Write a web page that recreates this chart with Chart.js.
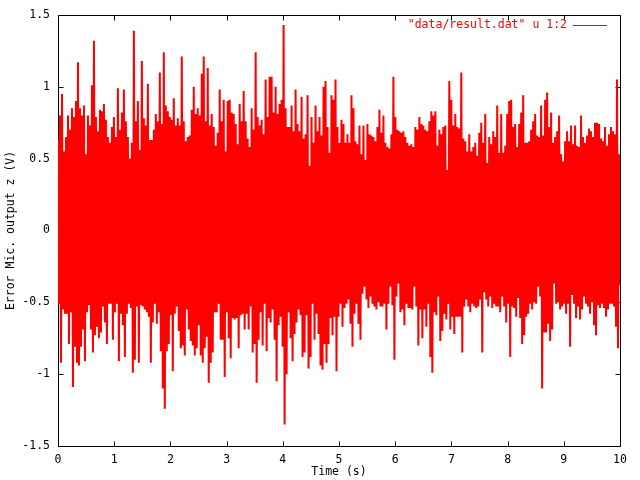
<!DOCTYPE html>
<html>
<head>
<meta charset="utf-8">
<script src="https://cdn.jsdelivr.net/npm/chart.js@4.4.0/dist/chart.umd.min.js"></script>
<style>
    html, body { margin: 0; padding: 0; background: #fff; }
    #plot { display: block; }
</style>
</head>
<body>
<canvas id="plot" width="640" height="480"></canvas>
<script>
// --- 1. DATA (one high/low pair per 2 px column) ---
const seriesLabel = '"data/result.dat" u 1:2';
const xTitle = "Time (s)";
const yTitle = "Error Mic. output z (V)";
const timeRange = [0, 10];
const xTicks = [0, 1, 2, 3, 4, 5, 6, 7, 8, 9, 10];
const yTicks = [-1.5, -1, -0.5, 0, 0.5, 1, 1.5];

const peaksHigh = [
    0.63,0.80,0.95,0.55,0.65,0.80,0.70,0.85,0.79,0.90,
    1.17,0.85,0.80,0.87,0.53,0.80,0.73,1.01,1.32,0.79,
    0.69,0.84,0.83,0.88,0.77,0.65,0.61,0.72,0.79,0.65,
    0.99,0.70,0.82,0.98,0.76,0.65,0.50,0.61,1.39,0.76,
    0.90,0.56,1.18,0.78,0.73,1.02,0.63,0.63,
    0.70,0.81,0.76,1.10,0.74,1.24,0.87,0.83,0.79,0.77,
    0.92,0.73,0.78,0.73,1.21,0.76,0.62,0.65,0.66,0.84,
    1.00,0.81,0.85,0.80,1.09,1.21,0.76,1.13,0.73,0.81,
    0.72,0.59,0.68,0.98,0.76,0.91,0.55,0.90,0.91,0.82,
    0.81,0.74,0.60,0.88,0.76,0.97,0.76,0.64,
    0.58,0.85,0.70,1.24,0.79,0.73,0.77,0.67,1.05,0.79,
    1.07,1.07,0.82,1.00,0.81,0.88,0.91,1.43,0.85,0.72,
    0.72,0.87,0.69,0.98,0.74,0.69,0.93,0.64,0.67,0.94,
    0.45,0.79,0.61,0.87,0.69,0.79,0.66,1.00,1.04,0.72,
    0.54,0.94,0.91,1.05,0.72,0.61,0.77,
    0.74,0.61,0.67,0.61,0.94,0.85,0.62,0.60,0.73,0.53,
    0.73,0.49,0.74,0.67,0.66,0.65,0.62,0.72,0.84,0.68,
    0.80,0.61,0.58,0.57,0.67,1.07,0.79,0.70,0.69,0.68,
    0.69,0.65,0.61,0.59,0.60,0.58,0.72,0.70,0.79,0.74,
    0.73,0.70,0.69,0.76,0.83,0.80,0.83,0.59,
    0.70,0.67,0.72,0.73,0.42,1.04,0.91,0.73,0.81,0.72,
    0.71,1.10,0.64,0.62,0.55,0.67,0.55,0.58,0.61,0.52,
    0.68,0.75,0.61,0.81,0.47,0.65,0.60,0.69,0.65,0.87,
    0.54,0.81,0.54,0.59,0.81,0.90,0.91,0.72,0.74,0.58,
    0.74,0.82,0.94,0.61,0.61,0.62,0.70,
    0.76,0.81,0.66,0.65,0.87,0.66,0.91,0.96,0.72,0.82,
    0.61,0.65,0.69,0.80,0.53,0.48,0.62,0.69,0.62,0.73,
    0.60,0.73,0.59,0.58,0.80,0.65,0.61,0.66,0.71,0.69,
    0.65,0.75,0.75,0.74,0.64,0.62,0.72,0.59,0.67,0.72,
    0.69,0.67,1.05,0.53
];

const peaksLow = [
    -0.51,-0.92,-0.55,-0.58,-0.58,-0.79,-0.57,-1.09,-0.81,-0.92,
    -0.94,-0.81,-0.69,-0.91,-0.57,-0.52,-0.69,-0.85,-0.73,-0.67,
    -0.75,-0.71,-0.53,-0.64,-0.79,-0.51,-0.51,-0.76,-0.57,-0.51,
    -0.91,-0.58,-0.66,-0.88,-0.58,-0.51,-0.54,-0.99,-0.90,-0.53,
    -0.92,-0.52,-0.53,-0.55,-0.57,-0.60,-0.92,-0.64,
    -0.51,-0.65,-0.57,-0.84,-1.10,-1.24,-0.84,-0.79,-0.59,-0.98,
    -0.58,-0.53,-0.70,-0.82,-0.80,-0.87,-0.55,-0.69,-0.77,-0.80,
    -0.87,-0.82,-0.66,-0.87,-0.92,-0.82,-0.74,-1.06,-0.92,-0.85,
    -0.57,-0.57,-0.51,-0.76,-0.76,-1.02,-0.57,-0.75,-0.89,-0.61,
    -0.62,-0.61,-0.82,-0.59,-0.58,-0.69,-0.58,-0.69,
    -0.53,-0.85,-0.79,-1.06,-0.76,-0.57,-0.80,-0.51,-0.84,-0.61,
    -0.64,-0.55,-0.76,-1.05,-0.66,-0.60,-0.81,-1.35,-1.00,-0.57,
    -0.75,-0.91,-0.72,-0.64,-0.55,-0.59,-0.88,-0.85,-0.59,-0.96,
    -0.88,-0.51,-0.76,-0.58,-0.72,-0.94,-0.97,-0.79,-0.92,-0.79,
    -0.61,-0.73,-0.60,-0.98,-0.60,-0.51,-0.67,
    -0.54,-0.51,-0.48,-0.65,-0.81,-0.58,-0.51,-0.65,-0.76,-0.44,
    -0.39,-0.48,-0.54,-0.46,-0.51,-0.53,-0.55,-0.50,-0.53,-0.53,
    -0.51,-0.69,-0.51,-0.39,-0.52,-0.90,-0.46,-0.37,-0.57,-0.55,
    -0.66,-0.51,-0.54,-0.54,-0.55,-0.39,-0.53,-0.80,-0.55,-0.75,
    -0.55,-0.67,-0.51,-0.88,-0.99,-0.57,-0.59,-0.46,
    -0.77,-0.70,-0.58,-0.62,-0.51,-0.69,-0.60,-0.72,-0.60,-0.60,
    -0.60,-0.85,-0.53,-0.48,-0.53,-0.57,-0.51,-0.53,-0.54,-0.53,
    -0.48,-0.85,-0.43,-0.48,-0.53,-0.46,-0.54,-0.51,-0.53,-0.53,
    -0.57,-0.46,-0.53,-0.64,-0.51,-0.88,-0.53,-0.54,-0.60,-0.47,
    -0.61,-0.79,-0.73,-0.60,-0.58,-0.51,-0.55,
    -0.50,-0.51,-0.39,-0.46,-1.10,-0.71,-0.71,-0.65,-0.77,-0.69,
    -0.37,-0.51,-0.50,-0.55,-0.53,-0.51,-0.58,-0.51,-0.81,-0.45,
    -0.51,-0.61,-0.53,-0.62,-0.55,-0.46,-0.51,-0.53,-0.58,-0.50,
    -0.66,-0.73,-0.52,-0.54,-0.51,-0.54,-0.60,-0.55,-0.51,-0.51,
    -0.53,-0.67,-0.82,-0.38
];

// --- 2. BUILD SERIES (samples alternate high / low, evenly spaced in time) ---
const nSamples = peaksHigh.length * 2;
const dt = (timeRange[1] - timeRange[0]) / (nSamples - 1);
const points = [];
for (let k = 0; k < peaksHigh.length; k++) {
    points.push({ x: timeRange[0] + (2 * k) * dt, y: peaksHigh[k] });
    points.push({ x: timeRange[0] + (2 * k + 1) * dt, y: peaksLow[k] });
}

// --- 3. STYLE ---
const FONT = { family: "'DejaVu Sans Mono', 'Liberation Mono', monospace", size: 11.5 };
const FONT_CSS = "11.5px 'DejaVu Sans Mono', 'Liberation Mono', monospace";
const TIC = 5;

// gnuplot-style frame with inward, mirrored tics (drawn under the data)
const framePlugin = {
    id: "frame",
    beforeDatasetsDraw(chart) {
        const { ctx, chartArea: a, scales: { x, y } } = chart;
        const L = Math.round(a.left) + 0.5, R = Math.round(a.right) + 0.5;
        const T = Math.round(a.top) + 0.5, B = Math.round(a.bottom) + 0.5;
        ctx.save();
        ctx.strokeStyle = "#000";
        ctx.lineWidth = 1;
        ctx.beginPath();
        ctx.rect(L, T, R - L, B - T);
        xTicks.forEach(v => {
            const px = Math.round(x.getPixelForValue(v)) + 0.5;
            ctx.moveTo(px, B); ctx.lineTo(px, B - TIC);
            ctx.moveTo(px, T); ctx.lineTo(px, T + TIC);
        });
        yTicks.forEach(v => {
            const py = Math.round(y.getPixelForValue(v)) + 0.5;
            ctx.moveTo(L, py); ctx.lineTo(L + TIC, py);
            ctx.moveTo(R, py); ctx.lineTo(R - TIC, py);
        });
        ctx.stroke();
        ctx.restore();
    }
};

// key in the top right corner: text then a line sample
const keyPlugin = {
    id: "key",
    afterDraw(chart) {
        const { ctx, chartArea: a } = chart;
        const ds = chart.data.datasets[0];
        const yKey = Math.round(a.top + 10) + 0.5;
        const lineEnd = Math.round(a.right - 13);
        const lineStart = lineEnd - 34;
        ctx.save();
        ctx.font = FONT_CSS;
        ctx.fillStyle = ds.borderColor;
        ctx.textAlign = "right";
        ctx.textBaseline = "middle";
        ctx.fillText(ds.label, lineStart - 6, yKey);
        ctx.strokeStyle = ds.borderColor;
        ctx.lineWidth = 1;
        ctx.beginPath();
        ctx.moveTo(lineStart, yKey);
        ctx.lineTo(lineEnd, yKey);
        ctx.stroke();
        ctx.restore();
    }
};

// --- 4. CHART ---
const ctx = document.getElementById("plot").getContext("2d");
new Chart(ctx, {
    type: "line",
    data: {
        datasets: [{
            label: seriesLabel,
            data: points,
            borderColor: "#ff0000",
            borderWidth: 2,
            pointRadius: 0,
            tension: 0,
            fill: false
        }]
    },
    options: {
        responsive: false,
        animation: false,
        devicePixelRatio: 1,
        layout: { padding: { left: 0, right: 20, top: 13, bottom: 0 } },
        plugins: { legend: { display: false }, tooltip: { enabled: false } },
        scales: {
            x: {
                type: "linear",
                min: timeRange[0],
                max: timeRange[1],
                grid: { display: false, drawTicks: false },
                border: { display: false },
                ticks: { font: FONT, color: "#000", padding: 7, maxRotation: 0, autoSkip: false,
                         callback: v => String(v) },
                title: { display: true, text: xTitle, font: FONT, color: "#000",
                         padding: { top: 0, bottom: 1 } },
                afterBuildTicks: s => { s.ticks = xTicks.map(v => ({ value: v })); },
                afterFit: s => { s.height = 34; }
            },
            y: {
                type: "linear",
                min: yTicks[0],
                max: yTicks[yTicks.length - 1],
                grid: { display: false, drawTicks: false },
                border: { display: false },
                ticks: { font: FONT, color: "#000", padding: 8, autoSkip: false,
                         callback: v => String(v) },
                title: { display: true, text: yTitle, font: FONT, color: "#000",
                         padding: { top: 4, bottom: 0 } },
                afterBuildTicks: s => { s.ticks = yTicks.map(v => ({ value: v })); },
                afterFit: s => { s.width = 58; }
            }
        }
    },
    plugins: [framePlugin, keyPlugin]
});
</script>
</body>
</html>
